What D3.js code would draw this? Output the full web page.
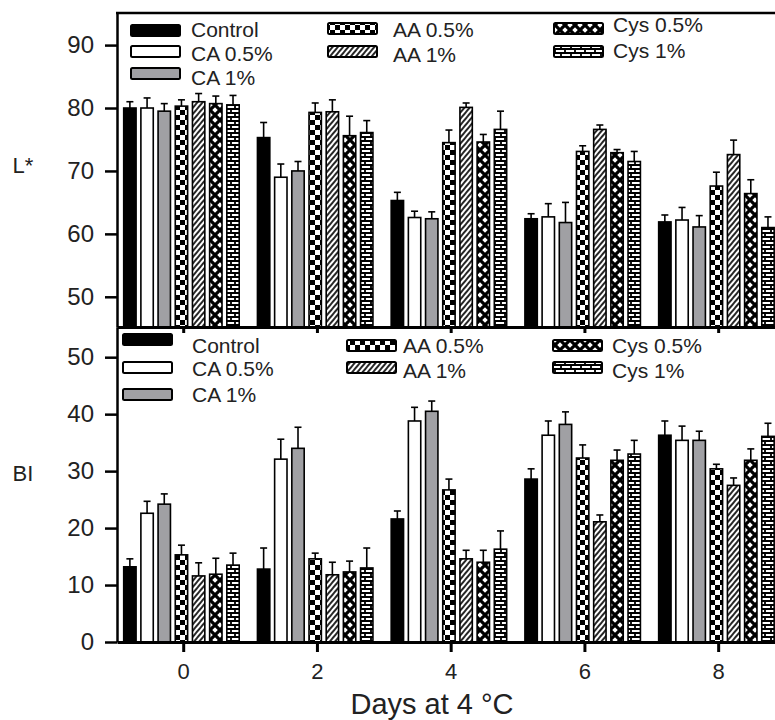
<!DOCTYPE html>
<html>
<head>
<meta charset="utf-8">
<script src="https://cdn.jsdelivr.net/npm/d3@7"></script>
<style>
  body { margin: 0; background: #fff; }
  text { font-family: "Liberation Sans", Arial, sans-serif; fill: #222; }
  .narrow { font-family: "Liberation Sans Narrow", "Arial Narrow", "Liberation Sans", sans-serif; }
</style>
</head>
<body>
<svg id="drawing_region"></svg>
<script>
// ---- data ----
const days = [0, 2, 4, 6, 8];
const series = ["Control", "CA 0.5%", "CA 1%", "AA 0.5%", "AA 1%", "Cys 0.5%", "Cys 1%"];

// L* (rows = series, columns = days)
const lValues = [
    [80.0, 75.3, 65.3, 62.4, 61.9],
    [80.0, 69.0, 62.6, 62.7, 62.2],
    [79.5, 70.0, 62.4, 61.8, 61.1],
    [80.3, 79.3, 74.5, 73.1, 67.6],
    [81.0, 79.4, 80.1, 76.6, 72.6],
    [80.7, 75.6, 74.6, 72.9, 66.4],
    [80.5, 76.1, 76.6, 71.5, 61.0]
];
const lErrors = [
    [1.0, 2.4, 1.3, 0.8, 1.1],
    [1.6, 2.1, 1.0, 2.1, 2.0],
    [1.2, 1.5, 1.1, 3.2, 1.8],
    [1.0, 1.5, 2.0, 0.9, 2.2],
    [1.3, 1.9, 0.7, 0.7, 2.3],
    [1.2, 3.1, 1.2, 0.5, 2.2],
    [1.5, 1.9, 2.9, 1.6, 1.7]
];

// BI
const biValues = [
    [13.2, 12.8, 21.6, 28.6, 36.3],
    [22.6, 32.1, 38.8, 36.3, 35.4],
    [24.2, 34.0, 40.5, 38.2, 35.4],
    [15.3, 14.6, 26.7, 32.3, 30.4],
    [11.6, 11.8, 14.6, 21.1, 27.5],
    [11.9, 12.3, 14.0, 31.9, 31.9],
    [13.5, 13.0, 16.3, 33.0, 36.1]
];
const biErrors = [
    [1.4, 3.7, 1.4, 1.8, 2.5],
    [2.1, 3.5, 2.4, 2.5, 2.5],
    [1.8, 3.7, 1.8, 2.2, 1.6],
    [1.7, 1.0, 1.9, 2.3, 0.8],
    [2.3, 2.2, 1.5, 1.2, 1.3],
    [2.8, 1.9, 2.1, 1.8, 2.0],
    [2.1, 3.5, 3.2, 2.4, 2.3]
];

const lTicks = [50, 60, 70, 80, 90];
const biTicks = [0, 10, 20, 30, 40, 50];

const fills = ["#000", "#fff", "#a0a0a4", "url(#pChecker)", "url(#pHatch)", "url(#pCross)", "url(#pBrick)"];

const svg = d3.select("#drawing_region").attr("width", 775).attr("height", 720);

// ---- patterns ----
const defs = svg.append("defs");
let p = defs.append("pattern").attr("id", "pChecker").attr("patternUnits", "userSpaceOnUse")
    .attr("width", 10).attr("height", 10);
p.append("rect").attr("width", 10).attr("height", 10).attr("fill", "#fff");
p.append("rect").attr("width", 5).attr("height", 5).attr("fill", "#000");
p.append("rect").attr("x", 5).attr("y", 5).attr("width", 5).attr("height", 5).attr("fill", "#000");

p = defs.append("pattern").attr("id", "pHatch").attr("patternUnits", "userSpaceOnUse")
    .attr("width", 4).attr("height", 4).attr("patternTransform", "rotate(40)");
p.append("rect").attr("width", 4).attr("height", 4).attr("fill", "#fff");
p.append("line").attr("x1", 1).attr("y1", 0).attr("x2", 1).attr("y2", 4)
    .attr("stroke", "#000").attr("stroke-width", 1.7);

p = defs.append("pattern").attr("id", "pCross").attr("patternUnits", "userSpaceOnUse")
    .attr("width", 10).attr("height", 10);
p.append("rect").attr("width", 10).attr("height", 10).attr("fill", "#fff");
p.append("path").attr("d", "M0,0L10,10M10,0L0,10").attr("stroke", "#000").attr("stroke-width", 3.2);

p = defs.append("pattern").attr("id", "pBrick").attr("patternUnits", "userSpaceOnUse")
    .attr("width", 10).attr("height", 8);
p.append("rect").attr("width", 10).attr("height", 8).attr("fill", "#fff");
p.append("path").attr("d", "M0,1H10M0,5H10M5,1V5M1,5V9")
    .attr("stroke", "#000").attr("stroke-width", 1.8).attr("fill", "none");

// ---- scales ----
const x = d3.scaleLinear().domain([-0.99, 8.85]).range([117, 775]);
const inner = d3.scaleBand().domain(series).range([-59.5, 56]).paddingInner(0.28);

const panels = [
    {values: lValues, errors: lErrors, ticks: lTicks, label: "L*", labelY: 167,
     y: d3.scaleLinear().domain([45.2, 95.1]).range([327, 13]), tickLabels: false},
    {values: biValues, errors: biErrors, ticks: biTicks, label: "BI", labelY: 475,
     y: d3.scaleLinear().domain([0, 55.3]).range([642, 327]), tickLabels: true}
];

panels.forEach(pn => {
    const y = pn.y;
    const base = y.range()[0];
    const g = svg.append("g");

    const rows = [];
    series.forEach((s, i) => days.forEach((d, j) => {
        rows.push({s: s, i: i, day: d, v: pn.values[i][j], e: pn.errors[i][j]});
    }));
    const cx = d => x(d.day) + inner(d.s) + inner.bandwidth() / 2;

    // error whiskers (upper only)
    const eb = g.selectAll(".err").data(rows).enter().append("g");
    eb.append("line")
        .attr("x1", cx).attr("x2", cx)
        .attr("y1", d => y(d.v)).attr("y2", d => y(d.v + d.e))
        .attr("stroke", "#000").attr("stroke-width", 1.6);
    eb.append("line")
        .attr("x1", d => cx(d) - 3.5).attr("x2", d => cx(d) + 3.5)
        .attr("y1", d => y(d.v + d.e)).attr("y2", d => y(d.v + d.e))
        .attr("stroke", "#000").attr("stroke-width", 1.6);

    g.selectAll(".bar").data(rows).enter().append("rect")
        .attr("x", d => x(d.day) + inner(d.s))
        .attr("y", d => y(d.v))
        .attr("width", inner.bandwidth())
        .attr("height", d => base - y(d.v))
        .attr("fill", d => fills[d.i])
        .attr("stroke", "#000").attr("stroke-width", 1.6);

    // y axis
    const ya = g.append("g").attr("transform", "translate(117,0)")
        .call(d3.axisLeft(y).tickValues(pn.ticks).tickSize(12).tickPadding(11).tickSizeOuter(0));
    ya.select(".domain").attr("stroke-width", 2.5);
    ya.selectAll(".tick line").attr("stroke-width", 2.5);
    ya.selectAll("text").attr("class", "narrow").style("font-size", "24px").attr("fill", "#222");

    // x axis
    const xa = g.append("g").attr("transform", `translate(0,${base})`)
        .call(d3.axisBottom(x).tickValues(days).tickSize(pn.tickLabels ? 10 : 6)
            .tickPadding(11).tickSizeOuter(0).tickFormat(pn.tickLabels ? d3.format("d") : ""));
    xa.select(".domain").attr("stroke-width", 3);
    xa.selectAll(".tick line").attr("stroke-width", 3);
    xa.selectAll("text").attr("class", "narrow").style("font-size", "22px").attr("fill", "#222");

    g.append("text").attr("x", 23).attr("y", pn.labelY).attr("text-anchor", "middle")
        .attr("dominant-baseline", "middle").style("font-size", "22px").text(pn.label);
});

// top frame line
svg.append("line").attr("x1", 116).attr("x2", 775).attr("y1", 13).attr("y2", 13)
    .attr("stroke", "#000").attr("stroke-width", 2.5);

svg.append("text").attr("class", "narrow").attr("x", 432).attr("y", 714).attr("text-anchor", "middle")
    .style("font-size", "29px").text("Days at 4 °C");

// ---- legends ----
const legendTop = [
    {x: 131, tx: 191, sy: 25, ty: 31}, {x: 131, tx: 191, sy: 46, ty: 55}, {x: 131, tx: 191, sy: 68, ty: 79},
    {x: 328, tx: 393, sy: 23, ty: 31}, {x: 328, tx: 393, sy: 46, ty: 56},
    {x: 554, tx: 613, sy: 23, ty: 26}, {x: 554, tx: 613, sy: 46, ty: 52}
];
const legendBottom = [
    {x: 123, tx: 192, sy: 334, ty: 347}, {x: 123, tx: 192, sy: 362, ty: 370}, {x: 123, tx: 192, sy: 389, ty: 396},
    {x: 347, tx: 403, sy: 340, ty: 347}, {x: 347, tx: 403, sy: 362, ty: 372},
    {x: 553, tx: 612, sy: 340, ty: 347}, {x: 553, tx: 612, sy: 362, ty: 372}
];
[legendTop, legendBottom].forEach(pos => {
    const lg = svg.append("g").selectAll("g").data(series).enter().append("g");
    lg.append("rect")
        .attr("x", (d, i) => pos[i].x).attr("y", (d, i) => pos[i].sy)
        .attr("width", 49).attr("height", 11).attr("rx", 1.5)
        .attr("fill", (d, i) => fills[i]).attr("stroke", "#000").attr("stroke-width", 2);
    lg.append("text")
        .attr("x", (d, i) => pos[i].tx).attr("y", (d, i) => pos[i].ty)
        .attr("dominant-baseline", "middle").style("font-size", "21px")
        .text(d => d);
});
</script>
</body>
</html>
